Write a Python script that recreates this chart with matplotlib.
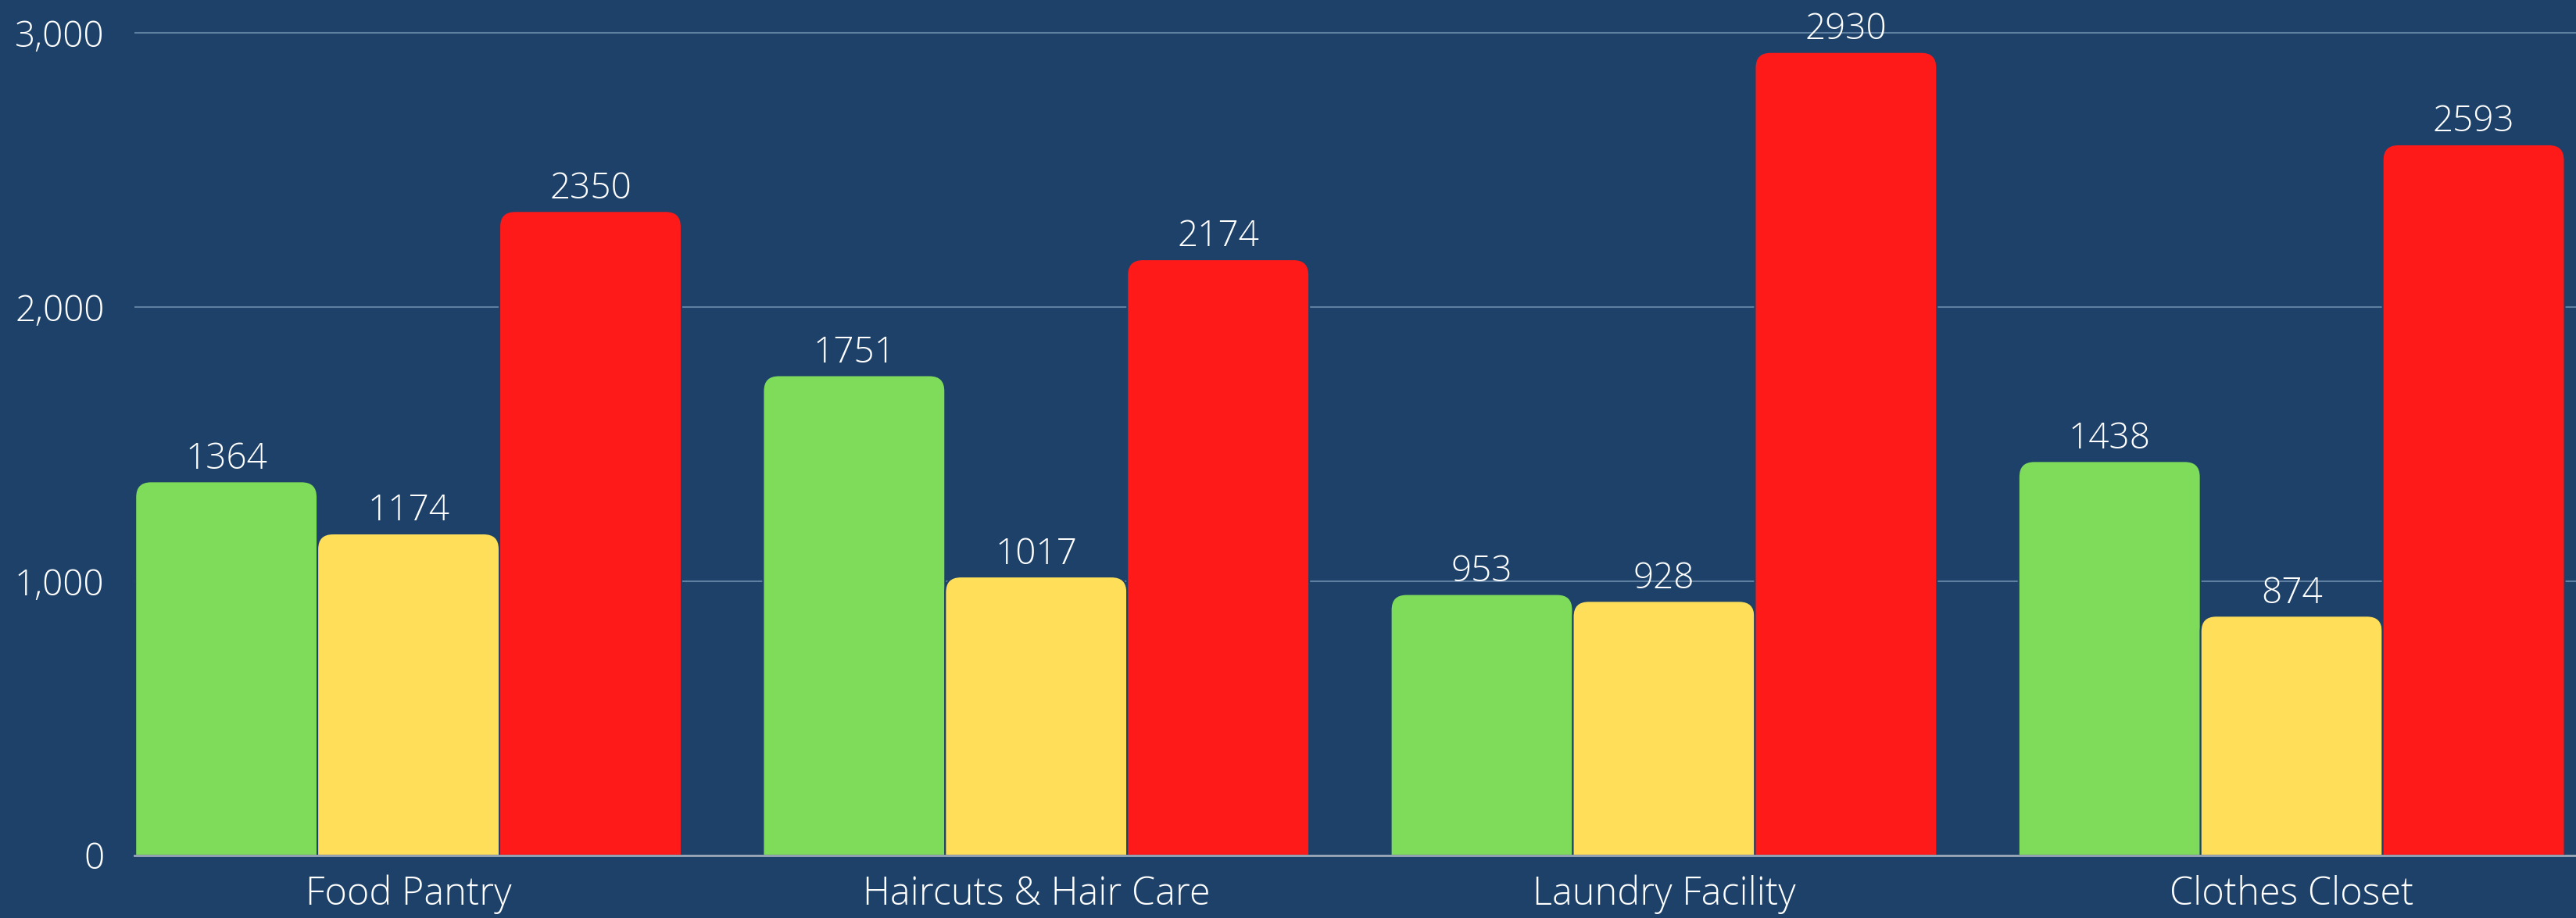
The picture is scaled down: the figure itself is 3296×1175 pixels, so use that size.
import matplotlib
matplotlib.use('Agg')
import matplotlib.pyplot as plt
from matplotlib.path import Path
from matplotlib.patches import PathPatch
import numpy as np

# services and counts per series
categories = ['Food Pantry', 'Haircuts & Hair Care', 'Laundry Facility', 'Clothes Closet']
green_vals = [1364, 1751, 953, 1438]
yellow_vals = [1174, 1017, 928, 874]
red_vals = [2350, 2174, 2930, 2593]
yticks = [0, 1000, 2000, 3000]
ytick_labels = ['0', '1,000', '2,000', '3,000']

bg = '#1D4169'
colors = ['#7FDB5A', '#FFDE59', '#FF1A1A']
plt.rcParams['font.family'] = ['Open Sans', 'DejaVu Sans']

fig = plt.figure(figsize=(32.96, 11.75), dpi=100, facecolor=bg)
ax = fig.add_axes([0.0523, 0.0681, 0.9477, 0.9319], facecolor=bg)
ax.set_xlim(-0.436, 3.453)
ax.set_ylim(0, 3120)

x = np.arange(len(categories))
bw = 0.29
fs = 33

# pixel -> data scale for the rounded corners
ax_w = fig.get_figwidth() * fig.dpi * 0.9477
ax_h = fig.get_figheight() * fig.dpi * 0.9319
r_px = 20
rx = r_px * (3.453 + 0.436) / ax_w
ry = r_px * 3120 / ax_h

def rounded_top(x0, w, h):
    verts = [(x0, 0), (x0, h - ry), (x0, h), (x0 + rx, h),
             (x0 + w - rx, h), (x0 + w, h), (x0 + w, h - ry), (x0 + w, 0), (x0, 0)]
    codes = [Path.MOVETO, Path.LINETO, Path.CURVE3, Path.CURVE3,
             Path.LINETO, Path.CURVE3, Path.CURVE3, Path.LINETO, Path.CLOSEPOLY]
    return Path(verts, codes)

for i, (vals, c) in enumerate(zip([green_vals, yellow_vals, red_vals], colors)):
    bars = ax.bar(x + (i - 1) * bw, vals, bw, color=c)
    for b, v in zip(bars, vals):
        b.set_visible(False)
        p = PathPatch(rounded_top(b.get_x(), b.get_width(), b.get_height()),
                      facecolor=c, edgecolor=bg, lw=1.5, zorder=3)
        ax.add_patch(p)
        ax.annotate(str(v), (b.get_x() + b.get_width() / 2, v), xytext=(0, 4),
                    textcoords='offset points', ha='center', va='bottom',
                    color='white', fontsize=fs, fontweight='light', zorder=4)

ax.set_yticks(yticks)
ax.set_yticklabels(ytick_labels)
ax.set_xticks(x)
ax.set_xticklabels(categories)
ax.grid(axis='y', color='#5F7FA0', lw=1.5, zorder=0)
ax.set_axisbelow(True)
for s in ['top', 'right', 'left']:
    ax.spines[s].set_visible(False)
ax.spines['bottom'].set_color('#9AA8B8')
ax.spines['bottom'].set_linewidth(2)
ax.spines['bottom'].set_zorder(5)
ax.tick_params(axis='y', length=0, pad=28, labelsize=fs, labelcolor='white')
ax.tick_params(axis='x', length=0, pad=18, labelsize=fs + 2, labelcolor='white')
for lab in ax.get_xticklabels() + ax.get_yticklabels():
    lab.set_fontweight('light')

fig.savefig('out.png', dpi=100, facecolor=bg)
